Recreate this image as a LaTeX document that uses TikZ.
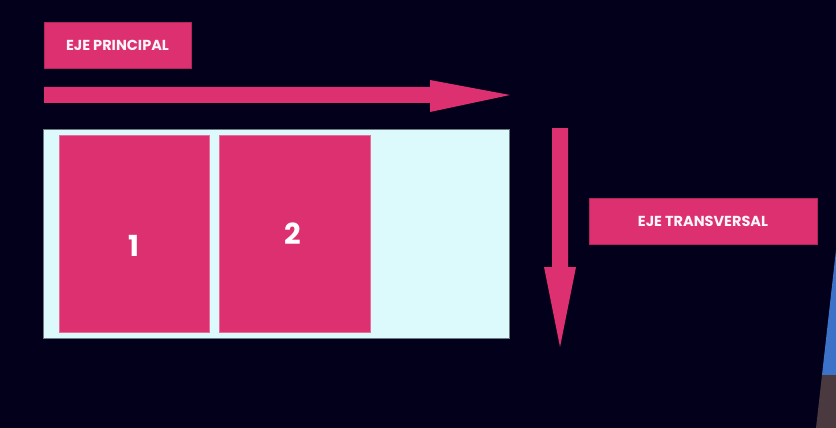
\documentclass[tikz,border=0pt]{standalone}
\usepackage{fontspec}
\setmainfont{Poppins}[UprightFont=* SemiBold, BoldFont=* Bold]
\definecolor{bgdark}{HTML}{03001C}
\definecolor{pinkc}{HTML}{DC3070}
\definecolor{panelc}{HTML}{DCFAFC}
\definecolor{panelb}{HTML}{6A7A80}
\definecolor{bluec}{HTML}{3C72C8}
\definecolor{brownc}{HTML}{4A3A40}
\begin{document}
\begin{tikzpicture}[x=1pt,y=-1pt,
  label box/.style={fill=pinkc,draw=pinkc!80!black,line width=0.6pt,inner sep=0pt,font=\fontsize{14.5}{16}\selectfont\bfseries,text=white!95!pinkc},
  cell/.style={fill=pinkc,draw=pinkc!70!white,line width=0.5pt},
  numtext/.style={font=\fontsize{29}{32}\selectfont\bfseries,text=white,inner sep=0pt}]
\useasboundingbox (0,0) rectangle (836,428);
\fill[bgdark] (0,0) rectangle (836,428);
% photo sliver at the right edge
\fill[bluec] (836,250) -- (822,375) -- (836,375) -- cycle;
\fill[brownc] (822,375) -- (816,428) -- (836,428) -- (836,375) -- cycle;
% label boxes
\node[label box,minimum width=147pt,minimum height=46pt] (lp) at (117.5,45) {EJE PRINCIPAL};
\node[label box,minimum width=228pt,minimum height=46pt] (lt) at (703,221) {EJE TRANSVERSAL};
% horizontal arrow
\fill[pinkc] (44,87) -- (430,87) -- (430,80) -- (510,95) -- (430,112) -- (430,103) -- (44,103) -- cycle;
% vertical arrow
\fill[pinkc] (552,128) -- (568,128) -- (568,267) -- (576,267) -- (560,347) -- (544,267) -- (552,267) -- cycle;
% panel
\node[fill=panelc,draw=panelb,line width=1pt,minimum width=466pt,minimum height=209pt,inner sep=0pt] (panel) at (276,233.5) {};
\node[cell,minimum width=150pt,minimum height=197pt,inner sep=0pt] (c1) at (134,233.5) {};
\node[cell,minimum width=151pt,minimum height=197pt,inner sep=0pt] (c2) at (294.5,233.5) {};
\node[numtext] (n1) at (134,246) {1};
\node[numtext] (n2) at (293,234) {2};
\end{tikzpicture}
\end{document}
